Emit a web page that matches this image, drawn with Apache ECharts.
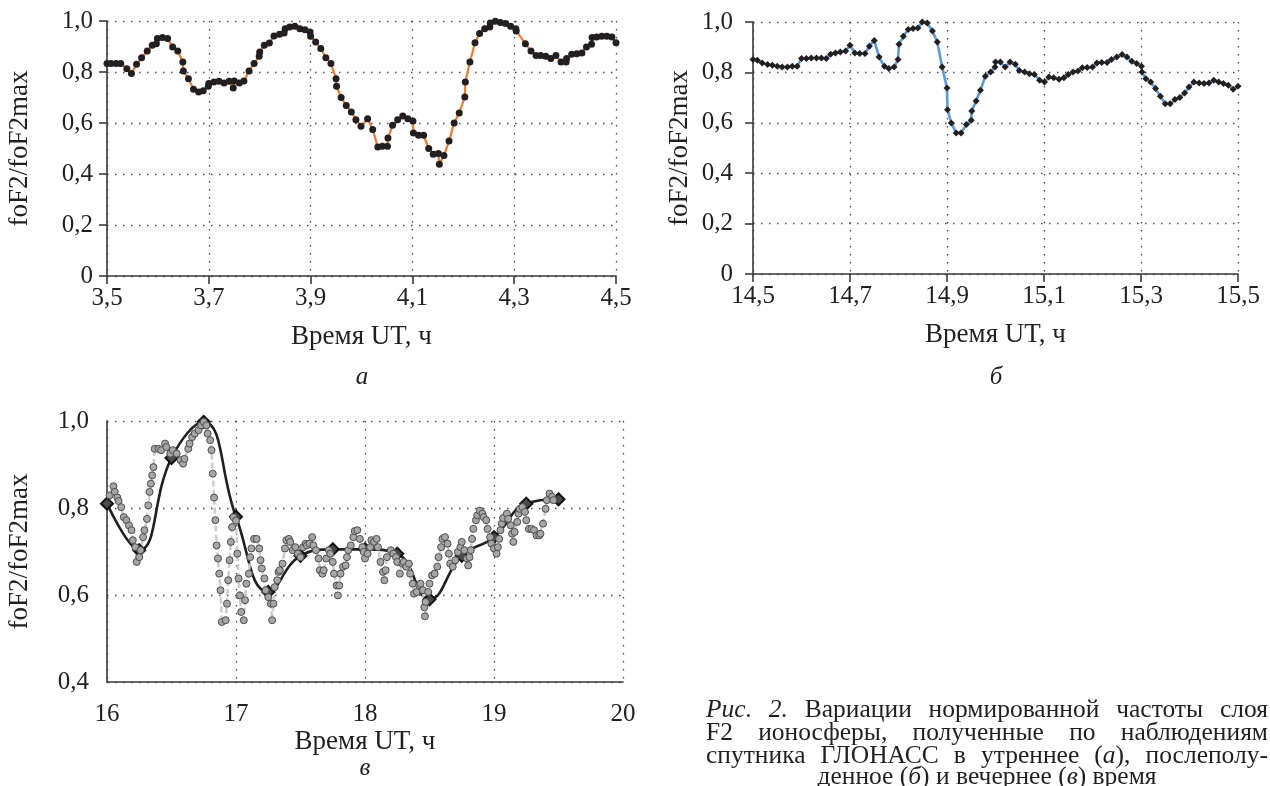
<!DOCTYPE html>
<html>
<head>
<meta charset="utf-8">
<script src="https://cdn.jsdelivr.net/npm/echarts@6/dist/echarts.min.js"></script>
<style>
  html, body { margin: 0; padding: 0; background: #fff; }
  #chart { width: 1270px; height: 786px; }
</style>
</head>
<body>
<div id="chart"></div>
<script>
// а) утро, 3,5–4,5 ч: [время UT, foF2/foF2max]
var morning = [
  [3.500,0.833],[3.508,0.833],[3.518,0.833],[3.527,0.833],[3.539,0.813],[3.548,0.794],[3.558,0.830],
  [3.568,0.856],[3.579,0.882],[3.589,0.905],[3.597,0.911],[3.599,0.931],[3.609,0.935],[3.619,0.931],
  [3.629,0.898],[3.639,0.882],[3.649,0.839],[3.650,0.804],[3.660,0.774],[3.670,0.732],[3.680,0.722],
  [3.689,0.726],[3.699,0.744],[3.700,0.755],[3.710,0.761],[3.720,0.764],[3.730,0.757],[3.740,0.764],
  [3.748,0.737],[3.750,0.765],[3.760,0.757],[3.769,0.765],[3.779,0.804],[3.789,0.833],[3.799,0.862],
  [3.800,0.878],[3.809,0.905],[3.819,0.914],[3.828,0.941],[3.839,0.948],[3.848,0.953],[3.850,0.970],
  [3.859,0.976],[3.869,0.979],[3.879,0.970],[3.889,0.966],[3.899,0.957],[3.900,0.940],[3.910,0.918],
  [3.920,0.892],[3.930,0.856],[3.940,0.833],[3.950,0.774],[3.951,0.744],[3.960,0.700],[3.970,0.669],
  [3.980,0.643],[3.989,0.613],[3.999,0.587],[4.012,0.617],[4.022,0.575],[4.032,0.506],[4.041,0.509],
  [4.051,0.509],[4.052,0.541],[4.061,0.591],[4.071,0.613],[4.081,0.627],[4.091,0.617],[4.101,0.608],
  [4.102,0.561],[4.112,0.552],[4.122,0.552],[4.132,0.500],[4.141,0.477],[4.151,0.480],[4.153,0.438],
  [4.162,0.473],[4.172,0.529],[4.182,0.600],[4.192,0.639],[4.203,0.702],[4.204,0.761],[4.213,0.839],
  [4.223,0.915],[4.232,0.951],[4.242,0.970],[4.252,0.976],[4.253,0.992],[4.263,0.999],[4.273,0.994],
  [4.283,0.990],[4.293,0.979],[4.303,0.970],[4.304,0.961],[4.322,0.911],[4.333,0.882],[4.343,0.865],
  [4.352,0.865],[4.362,0.862],[4.372,0.853],[4.382,0.865],[4.392,0.839],[4.402,0.839],[4.403,0.853],
  [4.413,0.870],[4.423,0.872],[4.433,0.875],[4.442,0.898],[4.452,0.909],[4.453,0.935],[4.462,0.937],
  [4.472,0.940],[4.482,0.940],[4.492,0.937],[4.500,0.915]
];

// б) после полудня, 14,5–15,5 ч
var afternoon = [
  [14.500,0.851],[14.509,0.848],[14.519,0.837],[14.530,0.831],[14.540,0.828],[14.550,0.824],[14.560,0.821],
  [14.571,0.821],[14.581,0.824],[14.591,0.824],[14.600,0.855],[14.610,0.855],[14.620,0.857],[14.631,0.857],
  [14.641,0.857],[14.651,0.855],[14.660,0.872],[14.670,0.877],[14.680,0.881],[14.691,0.885],[14.700,0.908],
  [14.710,0.877],[14.720,0.875],[14.731,0.875],[14.740,0.904],[14.750,0.927],[14.760,0.861],[14.771,0.824],
  [14.780,0.815],[14.791,0.821],[14.799,0.851],[14.801,0.912],[14.810,0.943],[14.820,0.970],[14.830,0.974],
  [14.840,0.976],[14.849,1.000],[14.859,0.996],[14.870,0.964],[14.880,0.921],[14.890,0.821],[14.900,0.738],
  [14.901,0.652],[14.909,0.599],[14.919,0.560],[14.929,0.560],[14.940,0.593],[14.950,0.610],[14.951,0.647],
  [14.960,0.687],[14.969,0.729],[14.979,0.785],[14.990,0.802],[14.999,0.821],[15.000,0.841],[15.010,0.841],
  [15.020,0.821],[15.030,0.841],[15.041,0.832],[15.049,0.808],[15.060,0.802],[15.070,0.795],[15.080,0.792],
  [15.091,0.769],[15.101,0.762],[15.110,0.782],[15.120,0.779],[15.131,0.773],[15.141,0.779],[15.150,0.792],
  [15.160,0.802],[15.170,0.806],[15.179,0.818],[15.189,0.819],[15.200,0.821],[15.209,0.837],[15.219,0.839],
  [15.230,0.839],[15.239,0.851],[15.250,0.861],[15.261,0.871],[15.271,0.861],[15.281,0.844],[15.291,0.835],
  [15.301,0.824],[15.302,0.802],[15.310,0.775],[15.320,0.762],[15.330,0.736],[15.340,0.705],[15.350,0.676],
  [15.360,0.676],[15.370,0.692],[15.380,0.700],[15.390,0.718],[15.399,0.742],[15.409,0.762],[15.420,0.758],
  [15.430,0.756],[15.440,0.758],[15.450,0.769],[15.460,0.762],[15.470,0.756],[15.480,0.749],[15.490,0.733],
  [15.500,0.745]
];

// в) вечер, 16–20 ч: сглаженная кривая (ромбы)
var eveningSmooth = [
  [16.00,0.810],[16.25,0.703],[16.50,0.915],[16.75,0.998],[17.00,0.780],[17.25,0.607],[17.50,0.690],
  [17.75,0.705],[18.00,0.705],[18.25,0.695],[18.50,0.590],[18.75,0.690],[19.00,0.733],[19.25,0.810],
  [19.50,0.820]
];

// в) вечер: исходные точки (серые кружки)
var eveningRaw = [
  [16.02,0.829],[16.05,0.850],[16.06,0.837],[16.08,0.824],[16.09,0.816],[16.11,0.802],[16.13,0.779],
  [16.15,0.772],[16.17,0.760],[16.19,0.749],[16.20,0.726],[16.22,0.710],[16.23,0.676],[16.25,0.687],
  [16.26,0.703],[16.28,0.733],[16.29,0.749],[16.31,0.775],[16.32,0.806],[16.33,0.837],[16.34,0.856],
  [16.35,0.875],[16.36,0.894],[16.37,0.936],[16.40,0.936],[16.42,0.933],[16.45,0.948],[16.46,0.940],
  [16.49,0.925],[16.51,0.933],[16.54,0.925],[16.57,0.910],[16.59,0.902],[16.60,0.913],[16.63,0.936],
  [16.64,0.948],[16.66,0.963],[16.68,0.971],[16.71,0.979],[16.73,0.990],[16.75,0.998],[16.77,0.990],
  [16.78,0.971],[16.80,0.956],[16.81,0.933],[16.82,0.879],[16.83,0.824],[16.84,0.772],[16.85,0.714],
  [16.86,0.684],[16.87,0.649],[16.88,0.611],[16.89,0.538],[16.92,0.542],[16.93,0.580],[16.94,0.634],
  [16.95,0.680],[16.96,0.722],[16.97,0.756],[16.98,0.779],[17.00,0.771],[17.01,0.695],[17.02,0.638],
  [17.03,0.599],[17.04,0.561],[17.06,0.542],[17.07,0.588],[17.08,0.626],[17.10,0.649],[17.11,0.687],
  [17.12,0.707],[17.14,0.729],[17.16,0.729],[17.18,0.707],[17.19,0.680],[17.20,0.661],[17.22,0.638],
  [17.23,0.611],[17.25,0.595],[17.27,0.580],[17.28,0.542],[17.29,0.580],[17.30,0.618],[17.32,0.634],
  [17.33,0.653],[17.34,0.657],[17.36,0.672],[17.38,0.707],[17.39,0.726],[17.41,0.729],[17.42,0.722],
  [17.44,0.703],[17.46,0.710],[17.48,0.695],[17.50,0.687],[17.52,0.710],[17.54,0.718],[17.55,0.714],
  [17.57,0.718],[17.59,0.733],[17.60,0.714],[17.62,0.703],[17.64,0.684],[17.65,0.657],[17.67,0.649],
  [17.68,0.657],[17.70,0.684],[17.72,0.703],[17.73,0.695],[17.75,0.676],[17.76,0.649],[17.78,0.622],
  [17.79,0.599],[17.80,0.622],[17.81,0.649],[17.83,0.665],[17.85,0.668],[17.86,0.687],[17.87,0.703],
  [17.89,0.714],[17.91,0.733],[17.92,0.747],[17.94,0.749],[17.96,0.729],[17.98,0.710],[17.99,0.699],
  [18.00,0.684],[18.02,0.695],[18.04,0.710],[18.05,0.726],[18.07,0.722],[18.09,0.729],[18.10,0.710],
  [18.12,0.676],[18.14,0.653],[18.15,0.634],[18.16,0.657],[18.17,0.687],[18.20,0.703],[18.22,0.695],
  [18.24,0.687],[18.25,0.676],[18.27,0.649],[18.29,0.672],[18.30,0.676],[18.32,0.665],[18.34,0.672],
  [18.35,0.649],[18.37,0.626],[18.38,0.603],[18.40,0.607],[18.42,0.622],[18.43,0.626],[18.45,0.611],
  [18.46,0.572],[18.465,0.551],[18.47,0.584],[18.49,0.607],[18.50,0.626],[18.52,0.645],[18.54,0.649],
  [18.56,0.665],[18.57,0.687],[18.59,0.710],[18.60,0.729],[18.62,0.733],[18.64,0.718],[18.65,0.695],
  [18.66,0.672],[18.68,0.665],[18.70,0.680],[18.72,0.699],[18.74,0.710],[18.75,0.722],[18.77,0.703],
  [18.79,0.684],[18.80,0.668],[18.81,0.687],[18.82,0.703],[18.83,0.729],[18.84,0.752],[18.86,0.772],
  [18.87,0.783],[18.89,0.794],[18.91,0.787],[18.92,0.779],[18.94,0.772],[18.95,0.752],[18.97,0.733],
  [18.98,0.718],[19.00,0.707],[19.02,0.695],[19.03,0.710],[19.04,0.729],[19.05,0.749],[19.06,0.764],
  [19.07,0.777],[19.10,0.787],[19.11,0.775],[19.13,0.760],[19.14,0.741],[19.15,0.722],[19.16,0.745],
  [19.18,0.768],[19.19,0.787],[19.20,0.798],[19.22,0.802],[19.24,0.791],[19.25,0.772],[19.27,0.752],
  [19.29,0.752],[19.31,0.749],[19.33,0.737],[19.35,0.737],[19.36,0.741],[19.38,0.764],[19.40,0.798],
  [19.41,0.818],[19.43,0.833],[19.45,0.826],[19.46,0.818]
];

// подпись к рисунку; *...* — курсив
var captionLines = [
  '*Рис.* *2.* Вариации нормированной частоты слоя',
  'F2 ионосферы, полученные по наблюдениям',
  'спутника ГЛОНАСС в утреннее (*а*), послеполу-',
  'денное (*б*) и вечернее (*в*) время'
];

var serif = '"Liberation Serif", "Times New Roman", serif';
var ink = '#231f20';

function comma(v) {
  if (v === 0) return '0';
  return (Math.round(v * 10) / 10).toFixed(1).replace('.', ',');
}

var axisLine = { show: true, lineStyle: { color: '#3a3a3a', width: 1.6 } };
var dotted = { show: true, lineStyle: { color: '#4a4a4a', width: 1.3, type: [1.5, 6.5] } };

function xAx(grid, min, max, interval, fmt, ticks, margin, gap) {
  return {
    type: 'value', gridIndex: grid, min: min, max: max, interval: interval,
    axisLine: axisLine,
    axisTick: { show: ticks, length: 8, lineStyle: { color: '#3a3a3a', width: 1.6 } },
    axisLabel: { fontFamily: serif, fontSize: 25, color: ink, margin: margin, formatter: fmt },
    splitLine: dotted,
    name: 'Время UT, ч', nameLocation: 'middle', nameGap: gap,
    nameTextStyle: { fontFamily: serif, fontSize: 27, color: ink }
  };
}
function yAx(grid, min, max, ticks, margin, gap) {
  return {
    type: 'value', gridIndex: grid, min: min, max: max, interval: 0.2,
    axisLine: axisLine,
    axisTick: { show: ticks, length: 8, lineStyle: { color: '#3a3a3a', width: 1.6 } },
    axisLabel: { fontFamily: serif, fontSize: 25, color: ink, margin: margin, formatter: comma },
    splitLine: dotted,
    name: 'foF2/foF2max', nameLocation: 'middle', nameGap: gap,
    nameTextStyle: { fontFamily: serif, fontSize: 27, color: ink }
  };
}

// раскладка подписи по ширине
var cnv = document.createElement('canvas').getContext('2d');
var capSize = 25.5, capLeft = 706, capRight = 1268, capY = [710, 733, 756, 777];
function parseWord(w) {
  var parts = w.split('*'), segs = [];
  for (var i = 0; i < parts.length; i++) if (parts[i]) segs.push([parts[i], i % 2 === 1]);
  return segs;
}
function segWidth(segs) {
  var s = 0;
  segs.forEach(function (p) {
    cnv.font = (p[1] ? 'italic ' : '') + capSize + 'px ' + serif;
    s += cnv.measureText(p[0]).width;
  });
  return s;
}
var graphics = [];
cnv.font = capSize + 'px ' + serif;
var spaceW = cnv.measureText(' ').width;
captionLines.forEach(function (line, li) {
  var words = line.split(' ').map(parseWord);
  var widths = words.map(segWidth);
  var total = widths.reduce(function (a, b) { return a + b; }, 0);
  var last = li === captionLines.length - 1;
  var gap = last ? spaceW : (capRight - capLeft - total) / (words.length - 1);
  var x = last ? (capLeft + capRight) / 2 - (total + gap * (words.length - 1)) / 2 : capLeft;
  words.forEach(function (segs, wi) {
    var txt = segs.map(function (p) { return p[1] ? '{i|' + p[0] + '}' : '{n|' + p[0] + '}'; }).join('');
    graphics.push({
      type: 'text', x: x, y: capY[li],
      style: {
        text: txt, fill: ink, verticalAlign: 'middle', align: 'left',
        rich: {
          n: { fontFamily: serif, fontSize: capSize, color: ink },
          i: { fontFamily: serif, fontSize: capSize, fontStyle: 'italic', color: ink }
        }
      }
    });
    x += widths[wi] + gap;
  });
});
// буквы под панелями
[['а', 362, 377], ['б', 996, 377], ['в', 365, 768]].forEach(function (p) {
  graphics.push({
    type: 'text', x: p[1], y: p[2],
    style: { text: p[0], fill: ink, fontFamily: serif, fontSize: 25, fontStyle: 'italic',
             align: 'center', verticalAlign: 'middle' }
  });
});

var chart = echarts.init(document.getElementById('chart'));
chart.setOption({
  animation: false,
  backgroundColor: '#fff',
  grid: [
    { left: 107, top: 21, width: 509, height: 255 },
    { left: 753, top: 22, width: 485, height: 252 },
    { left: 107, top: 421, width: 516, height: 261 }
  ],
  xAxis: [
    xAx(0, 3.5, 4.5, 0.2, comma, true, 10, 47),
    xAx(1, 14.5, 15.5, 0.2, comma, true, 10, 47),
    xAx(2, 16, 20, 1, function (v) { return String(v); }, false, 20, 46)
  ],
  yAxis: [
    yAx(0, 0, 1, true, 14, 74),
    yAx(1, 0, 1, true, 20, 60),
    yAx(2, 0.4, 1, false, 18, 74)
  ],
  series: [
    {
      type: 'line', xAxisIndex: 0, yAxisIndex: 0, data: morning,
      lineStyle: { color: '#ee7d2e', width: 2.2 },
      symbol: 'circle', symbolSize: 7, itemStyle: { color: '#231f20' }
    },
    {
      type: 'line', xAxisIndex: 1, yAxisIndex: 1, data: afternoon,
      lineStyle: { color: '#5b9bd5', width: 2.6 },
      symbol: 'diamond', symbolSize: 7, itemStyle: { color: '#231f20' }
    },
    {
      type: 'line', xAxisIndex: 2, yAxisIndex: 2, data: eveningSmooth, smooth: 0.45,
      lineStyle: { color: '#231f20', width: 2.6 },
      symbol: 'diamond', symbolSize: 12,
      itemStyle: { color: '#4a4a4a', borderColor: '#111', borderWidth: 2 }
    },
    {
      type: 'line', xAxisIndex: 2, yAxisIndex: 2, data: eveningRaw,
      lineStyle: { color: '#cdcdcd', width: 2.6, type: [6, 3] },
      symbol: 'circle', symbolSize: 7,
      itemStyle: { color: '#a6a6a6', borderColor: '#4d4d4d', borderWidth: 1 }
    }
  ],
  graphic: graphics
});
</script>
</body>
</html>
